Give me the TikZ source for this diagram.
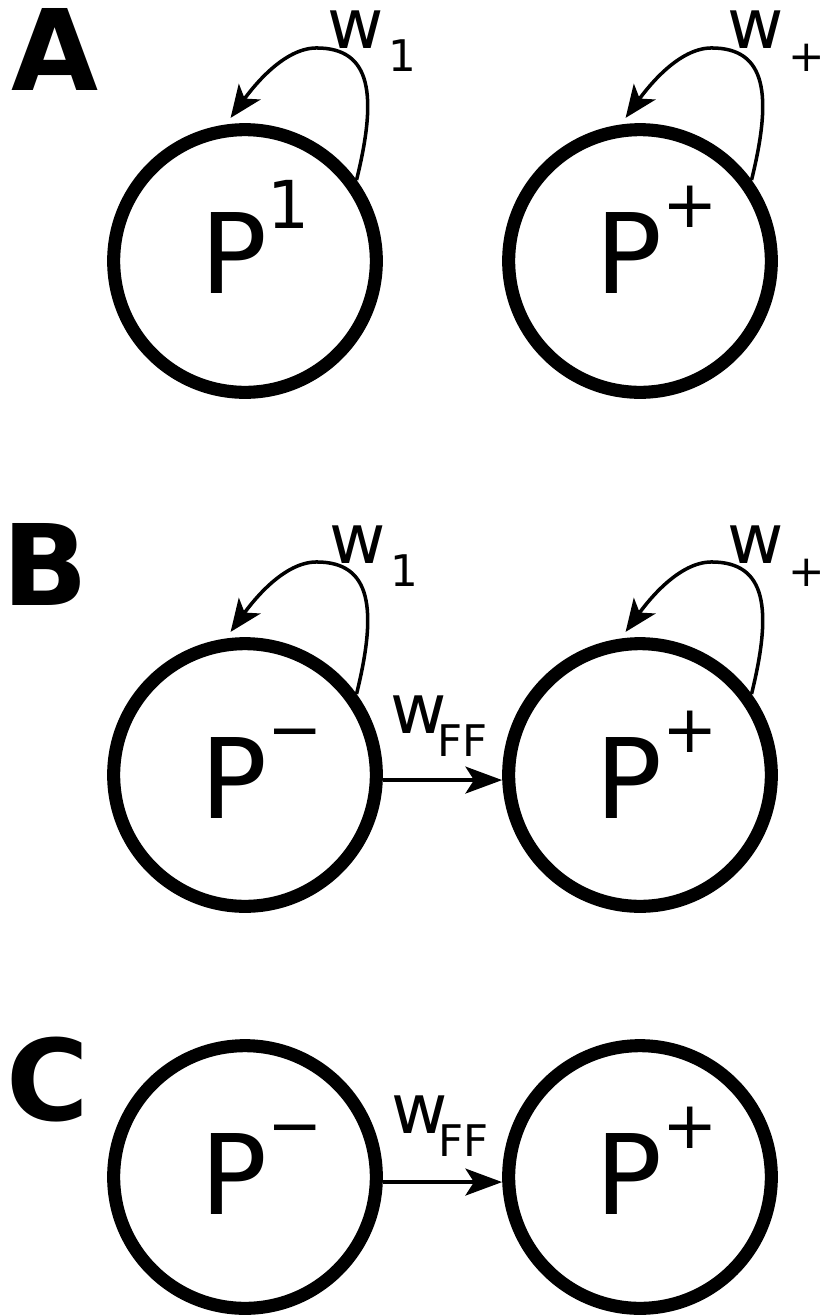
\documentclass[tikz,border=0pt]{standalone}
\usepackage{fontspec}
\setmainfont{DejaVu Sans}
\usetikzlibrary{arrows.meta}

% P with a raised mark, origin placed from the circle centre
\newcommand{\popname}[3]{\smash{\makebox[0pt][l]{\hspace*{-31.3pt}\raisebox{-#2}{\fontsize{79pt}{79pt}\selectfont P\raisebox{#3}{\fontsize{47pt}{47pt}\selectfont #1}}}}}
\newcommand{\wlab}[2]{\fontsize{49pt}{49pt}\selectfont w\kern#2\raisebox{-17pt}{\fontsize{31pt}{31pt}\selectfont #1}}

\begin{document}
\begin{tikzpicture}[x=0.025cm, y=-0.025cm,
    pop/.style={circle, draw, line width=9.3pt, minimum size=6.565cm, inner sep=0pt},
    selfloop/.style={line width=2.5pt, -{Stealth[length=23pt, width=19pt, inset=6pt]}},
    ffarrow/.style={line width=3.2pt, -{Stealth[length=26pt, width=19pt, inset=6pt]}},
    panel/.style={anchor=base west, inner sep=0pt, font=\fontsize{80pt}{80pt}\selectfont\bfseries},
    weight/.style={anchor=base west, inner sep=0pt}]
    \useasboundingbox (0,0) rectangle (821,1316);

    % Panel A
    \node[panel] (la) at (11,90) {A};
    \node[pop] (pa1) at (245,261) {\popname{1}{23.1pt}{46.4pt}};
    \node[pop] (pa2) at (640,261) {\popname{+}{23.1pt}{47pt}};
    \draw[selfloop] (pa1.36) .. controls +(21,-85) and +(55,0) .. ++(-40,-132)
        .. controls +(-32,0) and +(24,-33) .. ([shift={(0,-6)}]pa1.96);
    \draw[selfloop] (pa2.36) .. controls +(21,-85) and +(55,0) .. ++(-40,-132)
        .. controls +(-32,0) and +(24,-33) .. ([shift={(0,-6)}]pa2.96);
    \node[weight] (wa1) at (327,48) {\wlab{1}{3.5pt}};
    \node[weight] (wa2) at (727,48) {\wlab{+}{3.5pt}};

    % Panel B
    \node[panel] (lb) at (2,605) {B};
    \node[pop] (pb1) at (245,775) {\popname{−}{30.7pt}{47pt}};
    \node[pop] (pb2) at (640,775) {\popname{+}{30.7pt}{47pt}};
    \draw[selfloop] (pb1.36) .. controls +(21,-85) and +(55,0) .. ++(-40,-132)
        .. controls +(-32,0) and +(24,-33) .. ([shift={(0,-6)}]pb1.96);
    \draw[selfloop] (pb2.36) .. controls +(21,-85) and +(55,0) .. ++(-40,-132)
        .. controls +(-32,0) and +(24,-33) .. ([shift={(0,-6)}]pb2.96);
    \node[weight] (wb1) at (329,563) {\wlab{1}{3.5pt}};
    \node[weight] (wb2) at (727,563) {\wlab{+}{3.5pt}};
    \draw[ffarrow] ([yshift=-3.6pt]pb1.east) -- ([yshift=-3.6pt]pb2.west);
    \node[weight] (wbff) at (390,733) {\wlab{FF}{-6.2pt}};

    % Panel C
    \node[panel] (lc) at (6,1120) {C};
    \node[pop] (pc1) at (245,1177) {\popname{−}{27pt}{47pt}};
    \node[pop] (pc2) at (640,1177) {\popname{+}{27pt}{47pt}};
    \draw[ffarrow] ([yshift=-3.6pt]pc1.east) -- ([yshift=-3.6pt]pc2.west);
    \node[weight] (wcff) at (391,1133) {\wlab{FF}{-6.2pt}};
\end{tikzpicture}
\end{document}
